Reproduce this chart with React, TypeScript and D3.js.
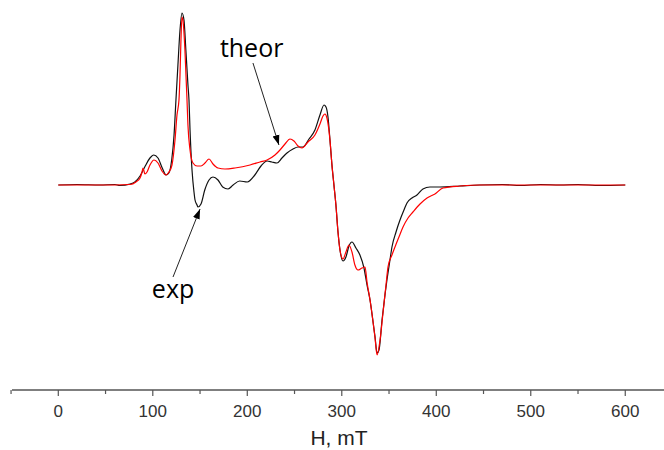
import React from "react";
import * as d3 from "d3";

// Experimental spectrum (H in mT, intensity in arbitrary units)
const expH = [0, 20, 44, 60, 65, 76, 81, 86.5, 92, 97, 101, 105.5, 110, 114, 117, 120, 122.5, 124.5, 126.6, 128.8, 130.9, 133, 135, 137.2, 138.3, 139.4, 141.5, 143.6, 144.7, 146.8, 147.8, 151, 155, 159.5, 163.7, 169, 174, 179.6, 185, 192, 200, 208, 214.5, 221, 226, 231.4, 236.7, 242, 248.4, 253.7, 258.9, 265.3, 271.6, 276.9, 281.2, 283.3, 285.4, 287.5, 289.6, 291.7, 293.8, 296, 298.1, 301.3, 304.4, 307.6, 310.8, 315, 319.2, 323.5, 326.7, 329.9, 333.1, 335.2, 337.3, 339.4, 342.6, 345.7, 347.8, 351, 353.1, 357.4, 361.6, 365.8, 369, 374.3, 379.6, 385.9, 393.3, 403.9, 425, 446, 470, 489, 510, 531, 550, 573, 600];
const expI = [0, 0.5, 0, 0.5, -0.5, 1, 3, 9, 19, 27, 30, 27, 17, 10, 12, 25, 50, 85, 120, 155, 172, 165, 135, 100, 85, 55, 15, -7, -15, -20, -22, -19, -5, 5, 8, 5, -2, -4, 0, 4, 3, 10, 19, 24, 23, 22, 27, 32, 36, 38, 38, 46, 55, 70, 80, 78, 68, 45, 20, 0, -20, -47, -65, -76, -72, -61, -57, -63, -70, -83, -100, -115, -137, -152, -168, -165, -135, -110, -95, -75, -62, -47, -35, -25, -18, -13, -10, -4, -2, -2, -1, 0, 0.5, -0.5, 0.5, 0, 0.5, -0.5, 0];

// Theoretical spectrum
const theorH = [0, 44, 76, 82.2, 86.5, 88.6, 89.6, 91.7, 93.9, 97, 101.3, 105.5, 109.7, 113.9, 117.1, 120.3, 123.5, 125.6, 127.7, 128.8, 129.8, 130.9, 131.9, 134, 136.2, 137.2, 139.4, 142.5, 146.8, 151, 155.2, 159.5, 163.7, 169, 176.4, 187, 202.9, 213.5, 220.9, 229.3, 234.6, 239.9, 245.2, 249.4, 253.7, 257.9, 264.2, 271.6, 276.9, 280.1, 282.2, 284.3, 287.5, 289.6, 291.7, 293.8, 296, 298.1, 301.3, 304.4, 307.6, 310.8, 313.9, 317.1, 321.4, 324.6, 326.7, 329.9, 333.1, 335.2, 337.3, 340.5, 343.6, 346.8, 348.9, 353.1, 356.3, 360.5, 364.8, 370.1, 375.3, 382.8, 390.2, 398.6, 407.1, 425, 446, 600];
const theorI = [0, 0, 0.5, 3, 7, 13, 17, 11, 13, 20, 25, 22, 14, 10, 13, 20, 45, 70, 85, 110, 145, 168, 165, 135, 85, 60, 35, 22, 19, 19, 22, 26, 21, 17, 16, 17, 20, 23, 25, 30, 35, 41, 46, 44, 39, 37, 43, 50, 61, 69, 71, 67, 45, 20, 0, -20, -47, -65, -74, -67, -60, -67, -80, -85, -83, -82, -97, -115, -137, -153, -170, -155, -128, -100, -82, -70, -62, -52, -42, -33, -27, -19, -13, -9, -3, -1, 0, 0];

const majorTicks = [0, 100, 200, 300, 400, 500, 600];
const minorTicks = [-50, 50, 150, 250, 350, 450, 550, 650];
const xLabel = "H, mT";

// Annotations: text position and arrow from tail to tip, in data coordinates
const annLabels = ["theor", "exp"];
const annTextH = [171, 99];
const annTextI = [128, -113];
const annTailH = [206, 121.4];
const annTailI = [122, -92];
const annTipH = [233.5, 150];
const annTipI = [40, -24];

export default function App() {
  const W = 664, H = 450;
  const x = d3.scaleLinear().domain([-49, 641]).range([12, 664]);
  const y = d3.scaleLinear().domain([185, -215]).range([0, 400]);
  const axisY = 390;

  const line = d3
    .line<[number, number]>()
    .x((d) => x(d[0]))
    .y((d) => y(d[1]))
    .curve(d3.curveMonotoneX);

  const expPts = expH.map((h, i) => [h, expI[i]] as [number, number]);
  const theorPts = theorH.map((h, i) => [h, theorI[i]] as [number, number]);

  return (
    <svg
      width={W}
      height={H}
      style={{ position: "absolute", left: 0, top: 0, background: "#fff" }}
    >
      <defs>
        <marker
          id="arr"
          viewBox="0 0 10 10"
          refX="10"
          refY="5"
          markerWidth="10"
          markerHeight="10"
          markerUnits="userSpaceOnUse"
          orient="auto"
        >
          <path d="M0,1.5 L10,5 L0,8.5 Z" fill="#000" />
        </marker>
      </defs>
      <path d={line(expPts) || ""} fill="none" stroke="#111" strokeWidth={1.2} />
      <path d={line(theorPts) || ""} fill="none" stroke="#ff0000" strokeWidth={1.2} />

      {/* axis */}
      <line x1={12} x2={664} y1={axisY} y2={axisY} stroke="#555" strokeWidth={1.5} />
      {majorTicks.map((t) => (
        <g key={"M" + t}>
          <line x1={x(t)} x2={x(t)} y1={axisY} y2={axisY + 6} stroke="#555" strokeWidth={1.2} />
          <text
            x={x(t)}
            y={axisY + 27}
            textAnchor="middle"
            fontFamily="Liberation Sans, Arial, sans-serif"
            fontSize={17}
            fill="#333"
          >
            {t}
          </text>
        </g>
      ))}
      {minorTicks.map((t) => (
        <line key={"m" + t} x1={x(t)} x2={x(t)} y1={axisY} y2={axisY + 4} stroke="#555" strokeWidth={1.2} />
      ))}
      <text
        x={339}
        y={445}
        textAnchor="middle"
        fontFamily="Liberation Sans, Arial, sans-serif"
        fontSize={21}
        fill="#222"
      >
        {xLabel}
      </text>

      {/* annotations */}
      {annLabels.map((lab, i) => (
        <g key={lab}>
          <line
            x1={x(annTailH[i])}
            y1={y(annTailI[i])}
            x2={x(annTipH[i])}
            y2={y(annTipI[i])}
            stroke="#222"
            strokeWidth={1}
            markerEnd="url(#arr)"
          />
          <text
            x={x(annTextH[i])}
            y={y(annTextI[i])}
            fontFamily="Open Sans, sans-serif"
            fontSize={25}
            fill="#000"
          >
            {lab}
          </text>
        </g>
      ))}
    </svg>
  );
}
